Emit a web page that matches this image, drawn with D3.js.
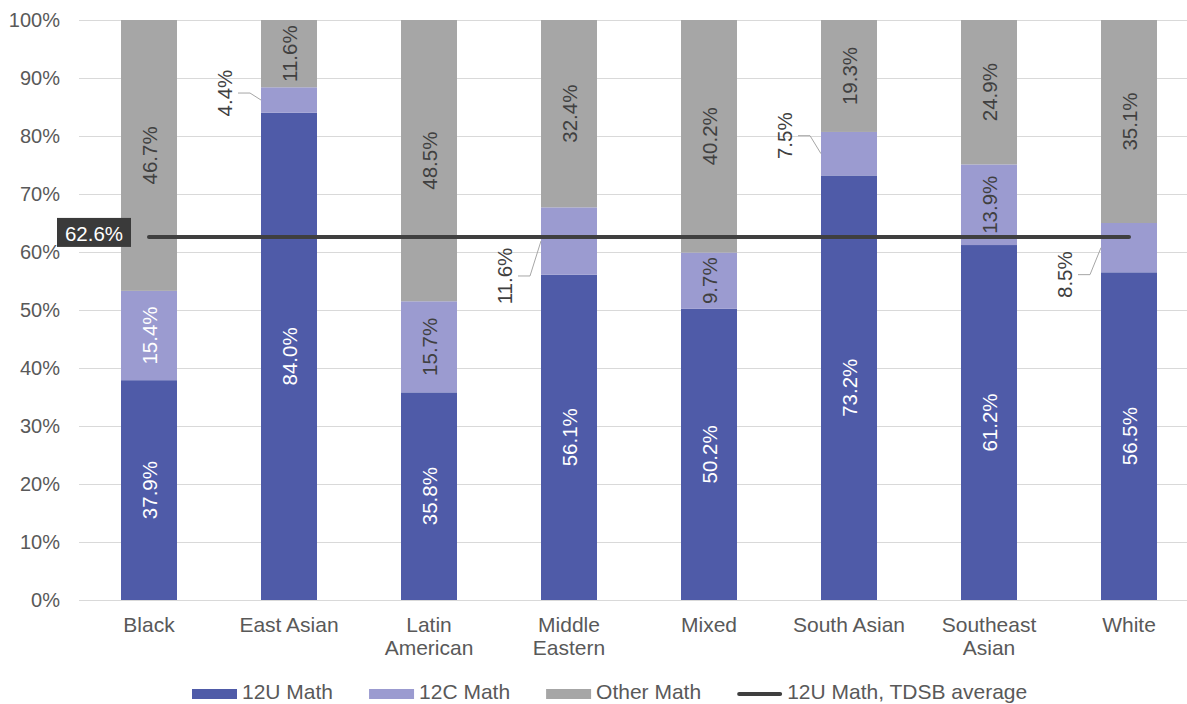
<!DOCTYPE html>
<html>
<head>
<meta charset="utf-8">
<script src="https://cdn.jsdelivr.net/npm/d3@7/dist/d3.min.js"></script>
<style>
  html, body { margin: 0; padding: 0; background: #ffffff; }
  svg { display: block; font-family: "Liberation Sans", Arial, sans-serif; }
</style>
</head>
<body>
<svg id="chart" width="1187" height="704"></svg>
<script>
// Share of students taking each Grade 12 math course, by group
const categories = ["Black", "East Asian", "Latin American", "Middle Eastern", "Mixed", "South Asian", "Southeast Asian", "White"];
const categoryLines = [["Black"], ["East Asian"], ["Latin", "American"], ["Middle", "Eastern"], ["Mixed"], ["South Asian"], ["Southeast", "Asian"], ["White"]];
const math12U = [37.9, 84.0, 35.8, 56.1, 50.2, 73.2, 61.2, 56.5];
const math12C = [15.4, 4.4, 15.7, 11.6, 9.7, 7.5, 13.9, 8.5];
const otherMath = [46.7, 11.6, 48.5, 32.4, 40.2, 19.3, 24.9, 35.1];
const tdsbAverage12U = 62.6;
const yTickValues = [0, 10, 20, 30, 40, 50, 60, 70, 80, 90, 100];
const seriesNames = ["12U Math", "12C Math", "Other Math"];
const averageName = "12U Math, TDSB average";

// Styling
const colors = { "12U Math": "#4f5ba8", "12C Math": "#9b9bd0", "Other Math": "#a6a6a6" };
const avgColor = "#3f3f3f";
const axisTextColor = "#595959";
const tickFontSize = 20;
const labelFontSize = 20.5;
const categoryFontSize = 21;
const legendFontSize = 21;
const fontFamily = "'Liberation Sans', Arial, sans-serif";

// Labels of thin 12C segments are placed beside the bar with a leader line
const calloutShift = { "East Asian": -7, "Middle Eastern": 35, "South Asian": -18, "White": 27 };
// 12C label colours inside the bar
const inside12CWhite = { "Black": true };

const svg = d3.select("#chart");
const W = 1187;
const plot = { left: 79, right: 1199, top: 20, bottom: 600 };

const rows = categories.map((c, i) => ({
  category: c,
  "12U Math": math12U[i],
  "12C Math": math12C[i],
  "Other Math": otherMath[i]
}));

const x = d3.scaleBand()
  .domain(categories)
  .range([plot.left, plot.right])
  .paddingInner(0.6)
  .paddingOuter(0.3);

const y = d3.scaleLinear()
  .domain([0, 100])
  .range([plot.bottom, plot.top])
  .clamp(true);

// Gridlines
const grid = svg.append("g")
  .attr("transform", `translate(${plot.left},0)`)
  .call(d3.axisLeft(y).tickValues(yTickValues).tickSize(-(W - plot.left)).tickFormat(""));
grid.select(".domain").remove();
grid.selectAll(".tick line").attr("stroke", "#d9d9d9").attr("stroke-width", 1);

// Y axis labels
const yAxis = svg.append("g")
  .attr("transform", `translate(${plot.left},0)`)
  .call(d3.axisLeft(y).tickValues(yTickValues).tickSize(0).tickPadding(19).tickFormat(d => d + "%"));
yAxis.select(".domain").remove();
yAxis.selectAll("text")
  .attr("fill", axisTextColor)
  .style("font-size", tickFontSize + "px")
  .style("font-family", fontFamily);

// X axis labels (multi-line)
const xAxis = svg.append("g")
  .attr("transform", `translate(0,${plot.bottom})`)
  .call(d3.axisBottom(x).tickSize(0).tickPadding(0));
xAxis.select(".domain").remove();
xAxis.selectAll(".tick text")
  .attr("fill", axisTextColor)
  .style("font-size", categoryFontSize + "px")
  .style("font-family", fontFamily)
  .attr("y", 32)
  .attr("dy", null)
  .each(function(d) {
    const lines = categoryLines[categories.indexOf(d)];
    const t = d3.select(this).text("");
    lines.forEach((ln, k) => {
      t.append("tspan").attr("x", 0).attr("dy", k === 0 ? 0 : 23).text(ln);
    });
  });

// Stacked bars
const stacked = d3.stack().keys(seriesNames)(rows);

const layers = svg.append("g").selectAll("g.layer")
  .data(stacked)
  .join("g")
  .attr("class", "layer")
  .attr("fill", d => colors[d.key]);

layers.selectAll("rect")
  .data(d => d)
  .join("rect")
  .attr("x", d => x(d.data.category))
  .attr("width", x.bandwidth())
  .attr("y", d => y(d[1]))
  .attr("height", d => y(d[0]) - y(d[1]));

// Segment value labels
const labelG = svg.append("g")
  .style("font-size", labelFontSize + "px")
  .style("font-family", fontFamily);

stacked.forEach(layer => {
  layer.forEach(seg => {
    const cat = seg.data.category;
    const value = seg.data[layer.key];
    const txt = value.toFixed(1) + "%";
    const cy = (y(seg[0]) + y(seg[1])) / 2;
    const barLeft = x(cat);
    if (layer.key === "12C Math" && calloutShift[cat] !== undefined) {
      const lx = barLeft - 37;
      const ly = cy + calloutShift[cat];
      labelG.append("path")
        .attr("d", `M${lx + 14},${ly} L${lx + 26},${ly} L${barLeft},${cy}`)
        .attr("fill", "none")
        .attr("stroke", "#a6a6a6")
        .attr("stroke-width", 1);
      labelG.append("text")
        .attr("transform", `translate(${lx},${ly}) rotate(-90)`)
        .attr("text-anchor", "middle")
        .attr("dominant-baseline", "central")
        .attr("fill", "#404040")
        .text(txt);
      return;
    }
    let fill = "#404040";
    if (layer.key === "12U Math") fill = "#ffffff";
    if (layer.key === "12C Math" && inside12CWhite[cat]) fill = "#ffffff";
    labelG.append("text")
      .attr("transform", `translate(${barLeft + x.bandwidth() / 2},${cy}) rotate(-90)`)
      .attr("text-anchor", "middle")
      .attr("dominant-baseline", "central")
      .attr("fill", fill)
      .text(txt);
  });
});

// TDSB average line for 12U Math
const firstCenter = x(categories[0]) + x.bandwidth() / 2;
const lastCenter = x(categories[categories.length - 1]) + x.bandwidth() / 2;
const avgY = y(tdsbAverage12U);
svg.append("line")
  .attr("x1", firstCenter)
  .attr("x2", lastCenter)
  .attr("y1", avgY)
  .attr("y2", avgY)
  .attr("stroke", avgColor)
  .attr("stroke-width", 4)
  .attr("stroke-linecap", "round");

// Average value tag
const tagCx = firstCenter - 55;
svg.append("rect")
  .attr("x", tagCx - 37)
  .attr("y", avgY - 19)
  .attr("width", 74)
  .attr("height", 29)
  .attr("fill", "#3a3a3a");
svg.append("text")
  .attr("x", tagCx)
  .attr("y", avgY + 4)
  .attr("text-anchor", "middle")
  .attr("fill", "#ffffff")
  .style("font-size", labelFontSize + "px")
  .style("font-family", fontFamily)
  .text(tdsbAverage12U.toFixed(1) + "%");

// Legend
const legendItems = seriesNames.map(n => ({ name: n, type: "bar" }))
  .concat([{ name: averageName, type: "line" }]);
const legend = svg.append("g")
  .style("font-size", legendFontSize + "px")
  .style("font-family", fontFamily);
let lxPos = 192;
const legendBaseline = 699;
legendItems.forEach(item => {
  if (item.type === "bar") {
    legend.append("rect")
      .attr("x", lxPos).attr("y", 689)
      .attr("width", 45).attr("height", 10)
      .attr("fill", colors[item.name]);
  } else {
    legend.append("line")
      .attr("x1", lxPos + 2).attr("x2", lxPos + 43)
      .attr("y1", 694).attr("y2", 694)
      .attr("stroke", avgColor)
      .attr("stroke-width", 4)
      .attr("stroke-linecap", "round");
  }
  const t = legend.append("text")
    .attr("x", lxPos + 50)
    .attr("y", legendBaseline)
    .attr("fill", axisTextColor)
    .text(item.name);
  lxPos += 50 + t.node().getComputedTextLength() + 36;
});
</script>
</body>
</html>
